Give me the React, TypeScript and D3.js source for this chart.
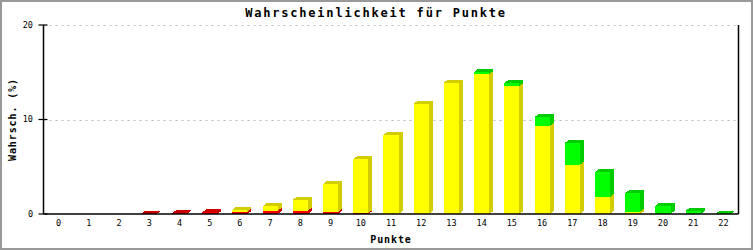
import React from "react";
import * as d3 from "d3";

const categories = ["0","1","2","3","4","5","6","7","8","9","10","11","12","13","14","15","16","17","18","19","20","21","22"];
const redValues =    [0,0,0,0.05,0.07,0.18,0.24,0.35,0.35,0.21,0.1,0,0,0,0,0,0,0,0,0,0,0,0];
const yellowValues = [0,0,0,0,0,0,0.22,0.46,1.16,2.96,5.72,8.36,11.67,13.9,14.81,13.55,9.31,5.19,1.8,0.25,0,0,0];
const greenValues =  [0,0,0,0,0,0,0,0,0,0,0,0,0,0,0.21,0.31,0.95,2.32,2.64,1.97,0.88,0.35,0.05];
const yTicks = [0, 10, 20];
const title = "Wahrscheinlichkeit für Punkte";
const xTitle = "Punkte";
const yTitle = "Wahrsch. (%)";

const keys = ["red", "yellow", "green"];
const faceColors: Record<string, string> = { red: "#ff0000", yellow: "#ffff00", green: "#00ff00" };
const sideColors: Record<string, string> = { red: "#cc0000", yellow: "#d2cd00", green: "#00cc00" };

export default function App() {
  const W = 753, H = 250;
  const left = 43.5, right = 738.5, top = 25, bottom = 214;
  const dx = 4, dy = 3;

  const rows = categories.map((c, i) => ({ cat: c, red: redValues[i], yellow: yellowValues[i], green: greenValues[i] }));
  const stacked = d3.stack<any>().keys(keys)(rows);

  const x = d3.scaleBand<string>().domain(categories).range([left, right]).paddingInner(0.5).paddingOuter(0.25);
  const y = d3.scaleLinear().domain([0, 20]).range([bottom, top]);
  const bw = x.bandwidth();
  const mono = "'DejaVu Sans Mono', monospace";

  const bars: React.ReactNode[] = [];
  stacked.forEach((layer) => {
    const key = layer.key;
    layer.forEach((d, i) => {
      const v0 = d[0], v1 = d[1];
      if (v1 - v0 <= 0) return;
      const x0 = x(categories[i])!;
      const x1 = x0 + bw;
      const yb = y(v0), yt = y(v1);
      bars.push(
        <g key={key + i}>
          <polygon points={`${x1},${yb} ${x1 + dx},${yb - dy} ${x1 + dx},${yt - dy} ${x1},${yt}`} fill={sideColors[key]} />
          <polygon points={`${x0},${yt} ${x0 + dx},${yt - dy} ${x1 + dx},${yt - dy} ${x1},${yt}`} fill={sideColors[key]} />
          <rect x={x0} y={yt} width={bw} height={yb - yt} fill={faceColors[key]} />
        </g>
      );
    });
  });

  return (
    <svg width={W} height={H} style={{ position: "absolute", left: 0, top: 0, background: "#fff" }}>
      <rect x={0} y={0} width={W} height={H} fill="#fff" />
      <rect x={1} y={1} width={W - 2} height={H - 2} fill="none" stroke="#999" strokeWidth={2} />
      {yTicks.filter(t => t > 0).map(t => (
        <line key={"g" + t} x1={left} x2={right} y1={Math.round(y(t)) + 0.5} y2={Math.round(y(t)) + 0.5} stroke="#bbb" strokeDasharray="2,4" />
      ))}
      <g shapeRendering="crispEdges">{bars}</g>
      <line x1={left} x2={left} y1={top} y2={bottom} stroke="#000" strokeWidth={1.5} />
      <line x1={right} x2={right} y1={top} y2={bottom} stroke="#000" strokeWidth={1.5} />
      <line x1={left} x2={right} y1={bottom} y2={bottom} stroke="#000" strokeWidth={1.5} />
      {yTicks.map(t => (
        <g key={"t" + t}>
          <line x1={left - 5} x2={left + 4} y1={y(t)} y2={y(t)} stroke="#000" strokeWidth={1.2} />
          <text x={33} y={y(t)} dy="0.35em" textAnchor="end" fontFamily={mono} fontSize={8.5}>{t}</text>
        </g>
      ))}
      {categories.map(c => (
        <text key={"x" + c} x={x(c)! + bw / 2} y={226} textAnchor="middle" fontFamily={mono} fontSize={8.5}>{c}</text>
      ))}
      <text x={376} y={17} textAnchor="middle" fontFamily={mono} fontSize={12} fontWeight="bold" letterSpacing={1.8}>{title}</text>
      <text x={391} y={243} textAnchor="middle" fontFamily={mono} fontSize={10} fontWeight="bold" letterSpacing={0.9}>{xTitle}</text>
      <text transform={`translate(16,${(top + bottom) / 2}) rotate(-90)`} textAnchor="middle" fontFamily={mono} fontSize={10} fontWeight="bold" letterSpacing={0.9}>{yTitle}</text>
    </svg>
  );
}
